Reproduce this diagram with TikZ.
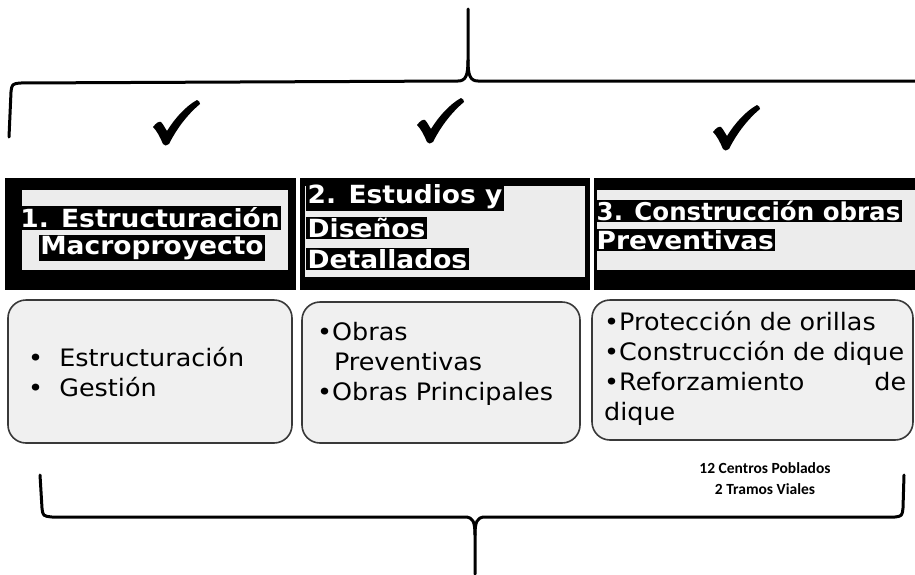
\documentclass[tikz,border=0pt]{standalone}
\usepackage{fontspec}
\setmainfont{DejaVu Sans}
\newfontfamily\hdfont[FakeStretch=1.06]{DejaVu Sans}
\newfontfamily\hdfontn{DejaVu Sans}
\newfontfamily\bdfont[FakeStretch=1.06]{DejaVu Sans}
\newfontfamily\smfont{Carlito}
\begin{document}
\begin{tikzpicture}[x=1pt,y=-1pt,
  brace/.style={line width=3pt,line cap=round,line join=round},
  hdbox/.style={fill=black,draw=none},
  hdin/.style={fill=gray!15,draw=none},
  hdtxt/.style={fill=black,text=white,inner sep=1.5pt,font=\hdfont\bfseries\fontsize{25}{28}\selectfont},
  itembox/.style={draw=gray!45!black,line width=1.6pt,fill=gray!12,rounded corners=18pt},
  itemtxt/.style={align=left,inner sep=0pt,font=\bdfont\fontsize{24}{30}\selectfont},
  note/.style={align=center,inner sep=0pt,font=\smfont\bfseries\fontsize{15.5}{21}\selectfont},
  chk/.pic={\fill (0,27) .. controls (3,23) and (6,21) .. (8,22) .. controls (10,24) and (12,28) .. (14,31) .. controls (22,18) and (33,6) .. (44,0) .. controls (46,1) and (47,2) .. (47,4) .. controls (35,14) and (24,28) .. (16,44) .. controls (14,46) and (11,46) .. (10,44) .. controls (7,37) and (4,31) .. (0,27) -- cycle;}
]
\useasboundingbox (0,0) rectangle (915,574);
% top brace
\coordinate (tb) at (468,9);
\coordinate (tl) at (9,137);
\coordinate (tr) at (915,81);
\draw[brace] (tl) -- (11,92) .. controls (12,84) .. (20,83) -- (458,81) .. controls (466,81) and (468,75) .. (468,60) -- (tb);
\draw[brace] (468,60) .. controls (468,75) and (470,81) .. (478,81) -- (tr);
% checks
\pic at (153,100) {chk};
\pic at (417,98) {chk};
\pic at (713,105) {chk};
% header boxes
\fill[hdbox] (5,178) rectangle (296,290);
\fill[hdin] (22,190) rectangle (288,270);
\fill[hdbox] (300,178) rectangle (590,290);
\fill[hdin] (305,186) rectangle (585,277);
\fill[hdbox] (594,178) rectangle (915,290);
\fill[hdin] (597,190) rectangle (915,270);
\node[hdtxt] (h1a) at (150,218) {1. Estructuración};
\node[hdtxt] (h1b) at (152,248) {Macroproyecto};
\node[hdtxt,anchor=west] (h2a) at (306,197) {2. Estudios y};
\node[hdtxt,anchor=west] (h2b) at (306,228) {Diseños};
\node[hdtxt,anchor=west] (h2c) at (306,259) {Detallados};
\node[hdtxt,anchor=west,font=\hdfontn\bfseries\fontsize{24.5}{28}\selectfont] (h3a) at (595,211) {3. Construcción obras};
\node[hdtxt,anchor=west] (h3b) at (595,240) {Preventivas};
% item boxes
\draw[itembox] (8,300) rectangle (292,443);
\draw[itembox] (302,302) rectangle (580,443);
\draw[itembox] (592,300) rectangle (913,440);
\node[itemtxt,anchor=west] (i1) at (28,372) {•\ \ Estructuración\\•\ \ Gestión};
\node[itemtxt,anchor=west] (i2) at (317,364) {•Obras\\\hspace*{0.7em}Preventivas\\•Obras Principales};
\node[itemtxt,anchor=west,text width=302pt] (i3) at (604,368) {•Protección de orillas\\\mbox{•Construcción de dique}\\•Reforzamiento\hspace{0pt plus 1filll}de\\dique};
\node[note] (n1) at (765,479) {12 Centros Poblados\\2 Tramos Viales};
% bottom brace
\coordinate (bl) at (40,475);
\coordinate (br) at (904,475);
\coordinate (bb) at (475,574);
\draw[brace] (bl) -- (42,508) .. controls (43,516) .. (52,517) -- (465,517) .. controls (473,517) and (475,522) .. (475,535) -- (bb);
\draw[brace] (475,535) .. controls (475,522) and (477,517) .. (485,517) -- (895,517) .. controls (902,516) .. (903,508) -- (br);
\end{tikzpicture}
\end{document}
